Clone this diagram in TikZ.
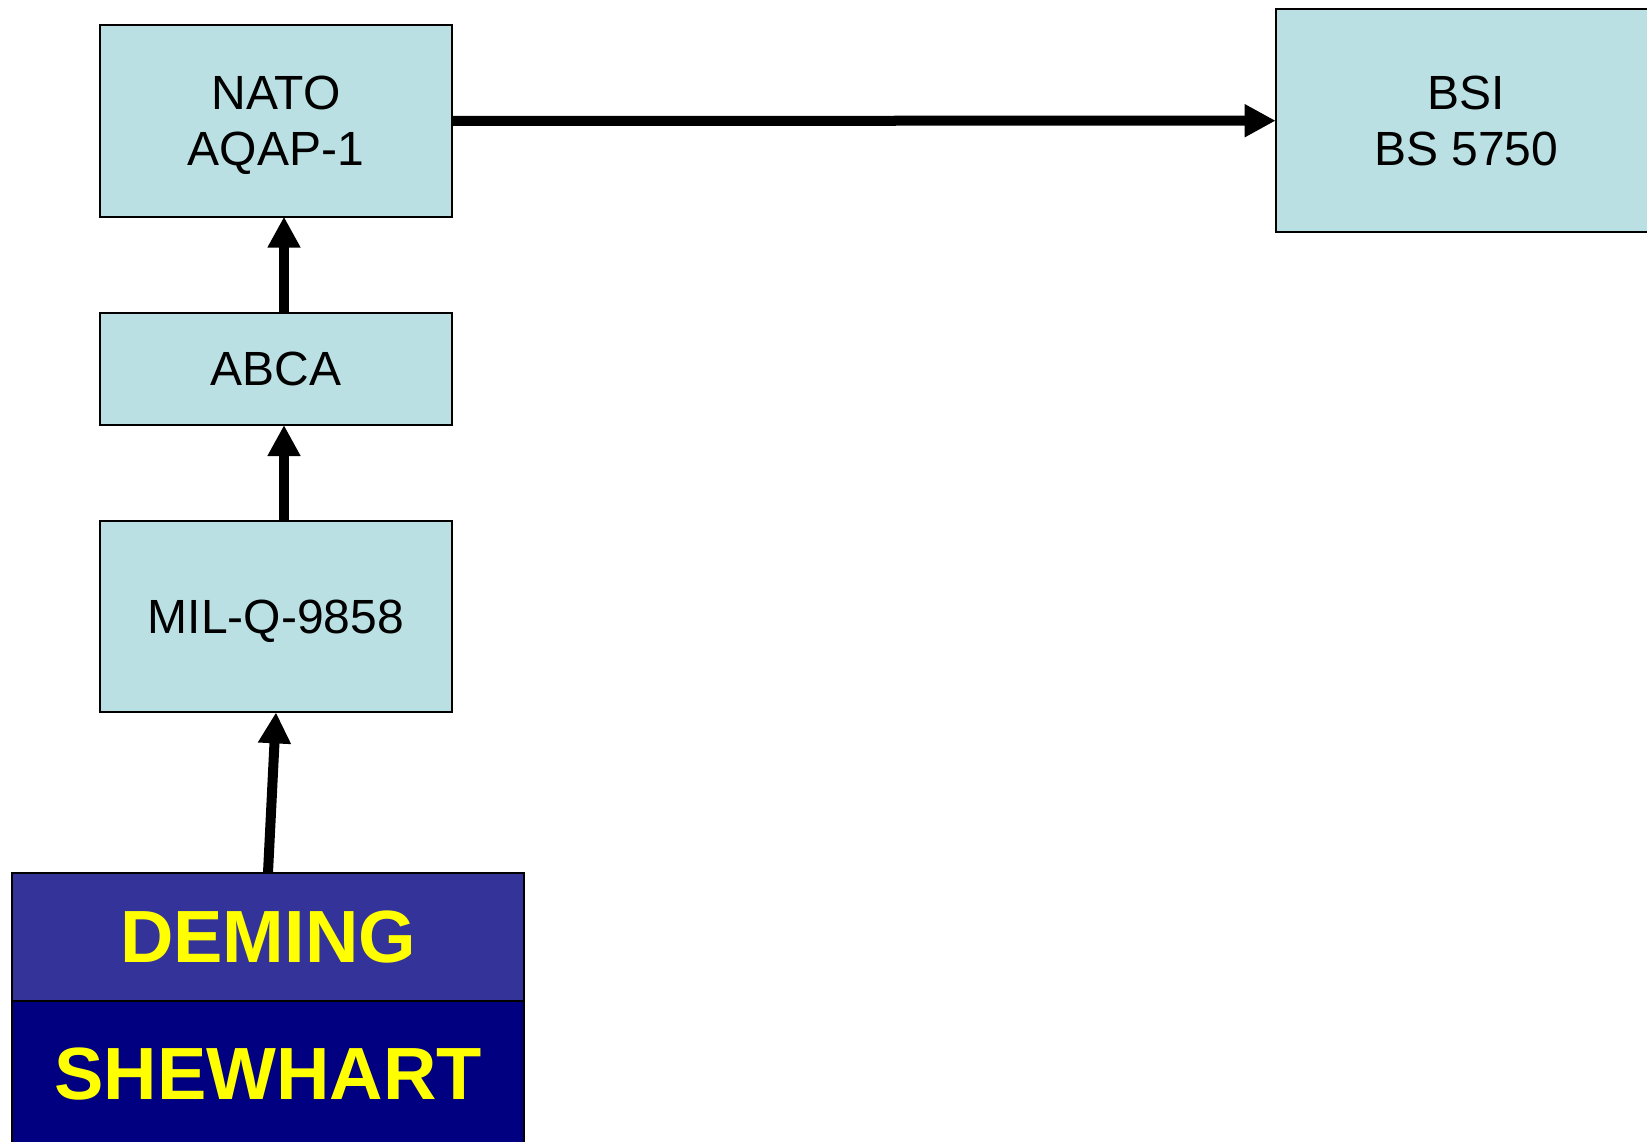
\documentclass[tikz,border=0pt]{standalone}
\usepackage{fontspec}
\setmainfont{Liberation Sans}
\usetikzlibrary{arrows.meta}
\definecolor{boxfill}{HTML}{BAE0E3}
\definecolor{demfill}{HTML}{333399}
\definecolor{shefill}{HTML}{000080}
\definecolor{txtyellow}{HTML}{FFFF00}
\tikzset{
  stdbox/.style={draw=black, line width=1pt, fill=boxfill, rectangle, inner sep=0pt, outer sep=0pt,
    align=center, text depth=0pt, font=\fontsize{24pt}{28pt}\selectfont},
  namebox/.style={draw=black, line width=1pt, rectangle, inner sep=0pt, outer sep=0pt,
    text=txtyellow, text depth=0pt, font=\fontsize{37pt}{42pt}\selectfont\bfseries},
  flow/.style={line width=5pt, -{Triangle[length=15.5pt,width=15.5pt]}}
}
\begin{document}
\begin{tikzpicture}[x=0.5pt,y=-0.5pt]
\useasboundingbox (0,0) rectangle (1647,1141);
\clip (0,0) rectangle (1647,1141);
\node[stdbox, minimum width=176.15pt, minimum height=95.85pt] (nato) at (276,120.8) {NATO\\AQAP-1};
\node[stdbox, minimum width=176.15pt, minimum height=55.85pt] (abca) at (276,369.2) {ABCA};
\node[stdbox, minimum width=176.15pt, minimum height=95.65pt] (mil) at (276,616.7) {MIL-Q-9858};
\node[stdbox, minimum width=190.65pt, minimum height=111.65pt] (bsi) at (1466.3,120.7) {BSI\\BS 5750};
\node[namebox, fill=demfill, minimum width=256.25pt, minimum height=64pt] (deming) at (268,936.7) {DEMING};
\node[namebox, fill=shefill, minimum width=256.25pt, minimum height=72.65pt] (shewhart) at (268,1073.3) {SHEWHART};
\draw[flow] (nato.east) -- (bsi.west);
\draw[flow] ([xshift=4pt]abca.north) -- ([xshift=4pt]nato.south);
\draw[flow] ([xshift=4pt]mil.north) -- ([xshift=4pt]abca.south);
\draw[flow] (deming.north) -- (mil.south);
\end{tikzpicture}
\end{document}
